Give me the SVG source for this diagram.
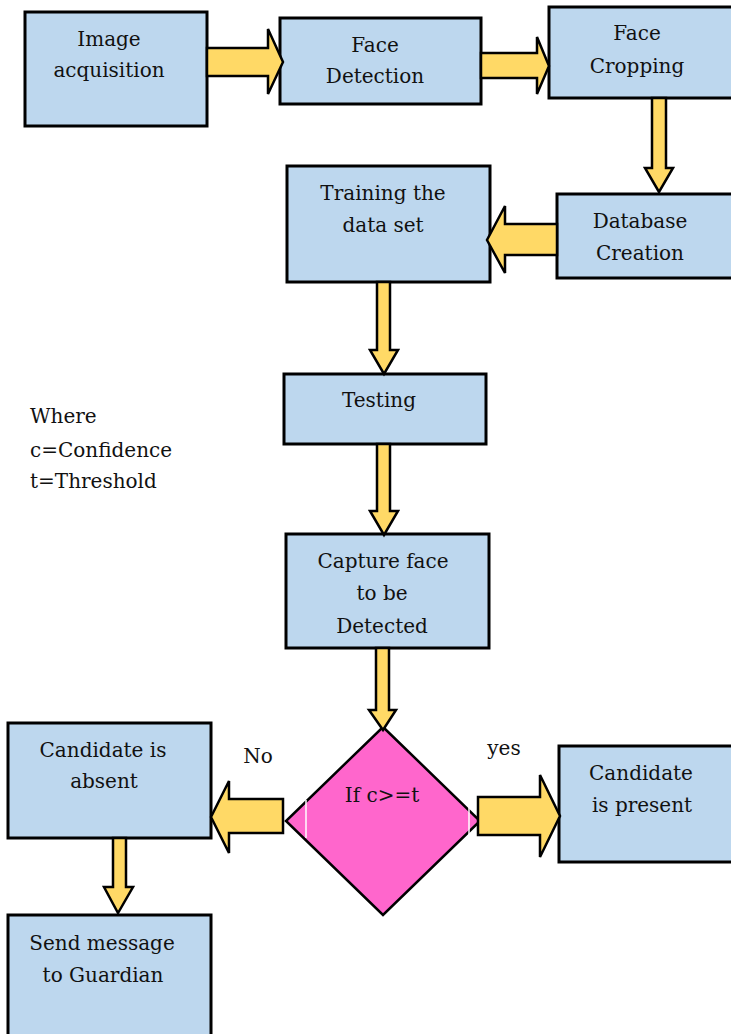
<svg xmlns="http://www.w3.org/2000/svg" width="731" height="1034" viewBox="0 0 731 1034">
<style>
.box{fill:#BDD7EE;stroke:#000;stroke-width:3}
.arr{fill:#FFD966;stroke:#000;stroke-width:2.5;stroke-linejoin:miter}
.dia{fill:#FF66CC;stroke:#000;stroke-width:2.5}
text{font-family:"DejaVu Serif","Liberation Serif",serif;font-size:20px;fill:#111;text-anchor:middle}
.lt{text-anchor:start}
</style>
<rect width="731" height="1034" fill="#fff"/>
<g id="n1"><rect class="box" x="25" y="12" width="182" height="114"/><text x="109" y="46">Image</text><text x="109" y="77">acquisition</text></g>
<g id="n2"><rect class="box" x="280" y="18" width="201" height="86"/><text x="375" y="52">Face</text><text x="375" y="83">Detection</text></g>
<g id="n3"><rect class="box" x="549" y="7" width="190" height="91"/><text x="637" y="40">Face</text><text x="637" y="73">Cropping</text></g>
<g id="n4"><rect class="box" x="287" y="166" width="203" height="116"/><text x="383" y="200">Training the</text><text x="383" y="232">data set</text></g>
<g id="n5"><rect class="box" x="557" y="194" width="182" height="84"/><text x="640" y="228">Database</text><text x="640" y="260">Creation</text></g>
<g id="n6"><rect class="box" x="284" y="374" width="202" height="70"/><text x="379" y="407">Testing</text></g>
<g id="n7"><rect class="box" x="286" y="534" width="203" height="114"/><text x="383" y="568">Capture face</text><text x="382" y="600">to be</text><text x="382" y="633">Detected</text></g>
<g id="n8"><polygon class="dia" points="383,727 480,821 383,915 286,821"/><line x1="306" y1="800" x2="306" y2="838" stroke="#fff" stroke-width="1.5"/><line x1="469" y1="800" x2="469" y2="838" stroke="#fff" stroke-width="1.5"/><text x="382" y="802">If c&gt;=t</text></g>
<g id="n9"><rect class="box" x="559" y="746" width="180" height="116"/><text x="641" y="780">Candidate</text><text x="642" y="812">is present</text></g>
<g id="n10"><rect class="box" x="8" y="723" width="203" height="115"/><text x="103" y="757">Candidate is</text><text x="104" y="788">absent</text></g>
<g id="n11"><rect class="box" x="8" y="915" width="203" height="130"/><text x="102" y="950">Send message</text><text x="103" y="982">to Guardian</text></g>
<g id="legend"><text class="lt" x="30" y="423">Where</text><text class="lt" x="30" y="457">c=Confidence</text><text class="lt" x="30" y="488">t=Threshold</text></g>
<g id="connectors">
<path class="arr" d="M207,48 H268 V29 L283,62 L268,94 V76 H207 Z"/>
<path class="arr" d="M481,53 H537 V37 L549,66 L537,94 V78 H481 Z"/>
<path class="arr" d="M652,98 V168 H645 L659,192 L673,168 H666 V98 Z"/>
<path class="arr" d="M557,224 H505 V206 L487,240 L505,273 V255 H557 Z"/>
<path class="arr" d="M377,282 V350 H370 L384,374 L398,350 H390 V282 Z"/>
<path class="arr" d="M377,444 V511 H370 L384,535 L398,511 H390 V444 Z"/>
<path class="arr" d="M376,648 V710 H369 L383,730 L396,710 H389 V648 Z"/>
<path class="arr" d="M283,799 H229 V781 L211,817 L229,853 V833 H283 Z"/>
<path class="arr" d="M478,797 H540 V775 L560,816 L540,857 V835 H478 Z"/>
<path class="arr" d="M113,838 V887 H104 L118,913 L133,887 H126 V838 Z"/>
<text x="258" y="763">No</text>
<text x="504" y="755">yes</text>
</g>
</svg>
